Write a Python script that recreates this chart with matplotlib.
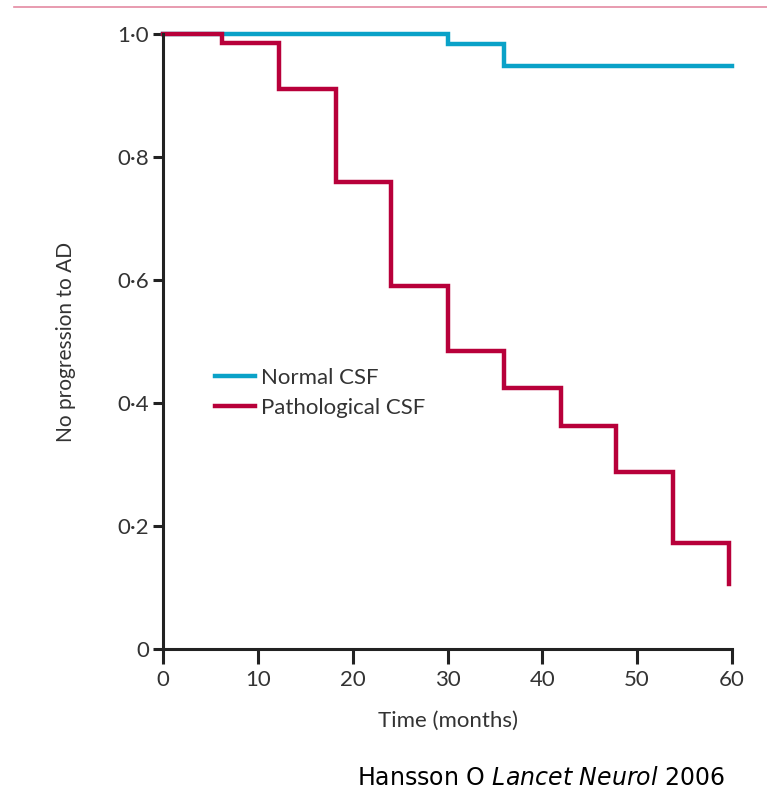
import matplotlib

matplotlib.use("Agg")
import matplotlib.pyplot as plt
from matplotlib.lines import Line2D

CYAN = "#0aa2c8"
CRIMSON = "#b8003a"
PINK = "#e48aa2"

# Kaplan-Meier estimates
normal_t = [0, 30, 36, 60]
normal_s = [1.0, 0.984, 0.948, 0.948]

patho_t = [0, 6.2, 12.2, 18.2, 24, 30, 36, 42, 47.8, 53.8, 59.7, 59.7]
patho_s = [1.0, 0.985, 0.911, 0.759, 0.590, 0.485, 0.424, 0.363, 0.288,
           0.172, 0.106, 0.106]

xticks = [0, 10, 20, 30, 40, 50, 60]
yticks = [0, 0.2, 0.4, 0.6, 0.8, 1.0]
ytick_labels = ["0", "0·2", "0·4", "0·6", "0·8", "1·0"]

plt.rcParams["font.family"] = ["Lato", "DejaVu Sans"]

fig = plt.figure(figsize=(7.67, 7.92), dpi=100)
ax = fig.add_axes([163 / 767, 143 / 792, 569 / 767, 615 / 792])

ax.step(normal_t, normal_s, where="post", color=CYAN, linewidth=3.2,
        solid_joinstyle="miter", zorder=3, clip_on=False)
ax.step(patho_t, patho_s, where="post", color=CRIMSON, linewidth=3.2,
        solid_joinstyle="miter", zorder=4, clip_on=False)

ax.set_xlim(0, 60)
ax.set_ylim(0, 1.0)
for s in ("top", "right"):
    ax.spines[s].set_visible(False)
for s in ("left", "bottom"):
    ax.spines[s].set_linewidth(2.2)
    ax.spines[s].set_color("#222222")
    ax.spines[s].set_zorder(5)

ax.set_xticks(xticks)
ax.set_yticks(yticks)
ax.set_yticklabels(ytick_labels)
ax.tick_params(axis="x", direction="out", length=11, width=2.2,
               color="#222222", labelsize=16, pad=4, labelcolor="#333333")
ax.tick_params(axis="y", direction="out", length=7, width=2.2,
               color="#222222", labelsize=16, pad=3, labelcolor="#333333")

ax.set_xlabel("Time (months)", fontsize=16, color="#333333", labelpad=15)
ax.set_ylabel("No progression to AD", fontsize=15, color="#333333",
              labelpad=30)

handles = [Line2D([], [], color=CYAN, linewidth=3.2),
           Line2D([], [], color=CRIMSON, linewidth=3.2)]
ax.legend(handles, ["Normal CSF", "Pathological CSF"], frameon=False,
          loc="upper left", bbox_to_anchor=(0.091, 0.457), fontsize=16,
          handlelength=1.8, handletextpad=0.3, labelspacing=0.45,
          borderpad=0, borderaxespad=0, labelcolor="#333333")

# thin rule across the top of the slide
fig.add_artist(Line2D([14 / 767, 1.0], [1 - 7 / 792, 1 - 7 / 792],
                      color=PINK, linewidth=1.2))

fig.text(357 / 767, 1 - 778 / 792,
         r"Hansson O $\mathit{Lancet\ Neurol}$ 2006", ha="left", va="center",
         fontsize=17, family="DejaVu Sans", color="black")

fig.savefig("out.png", dpi=100)
